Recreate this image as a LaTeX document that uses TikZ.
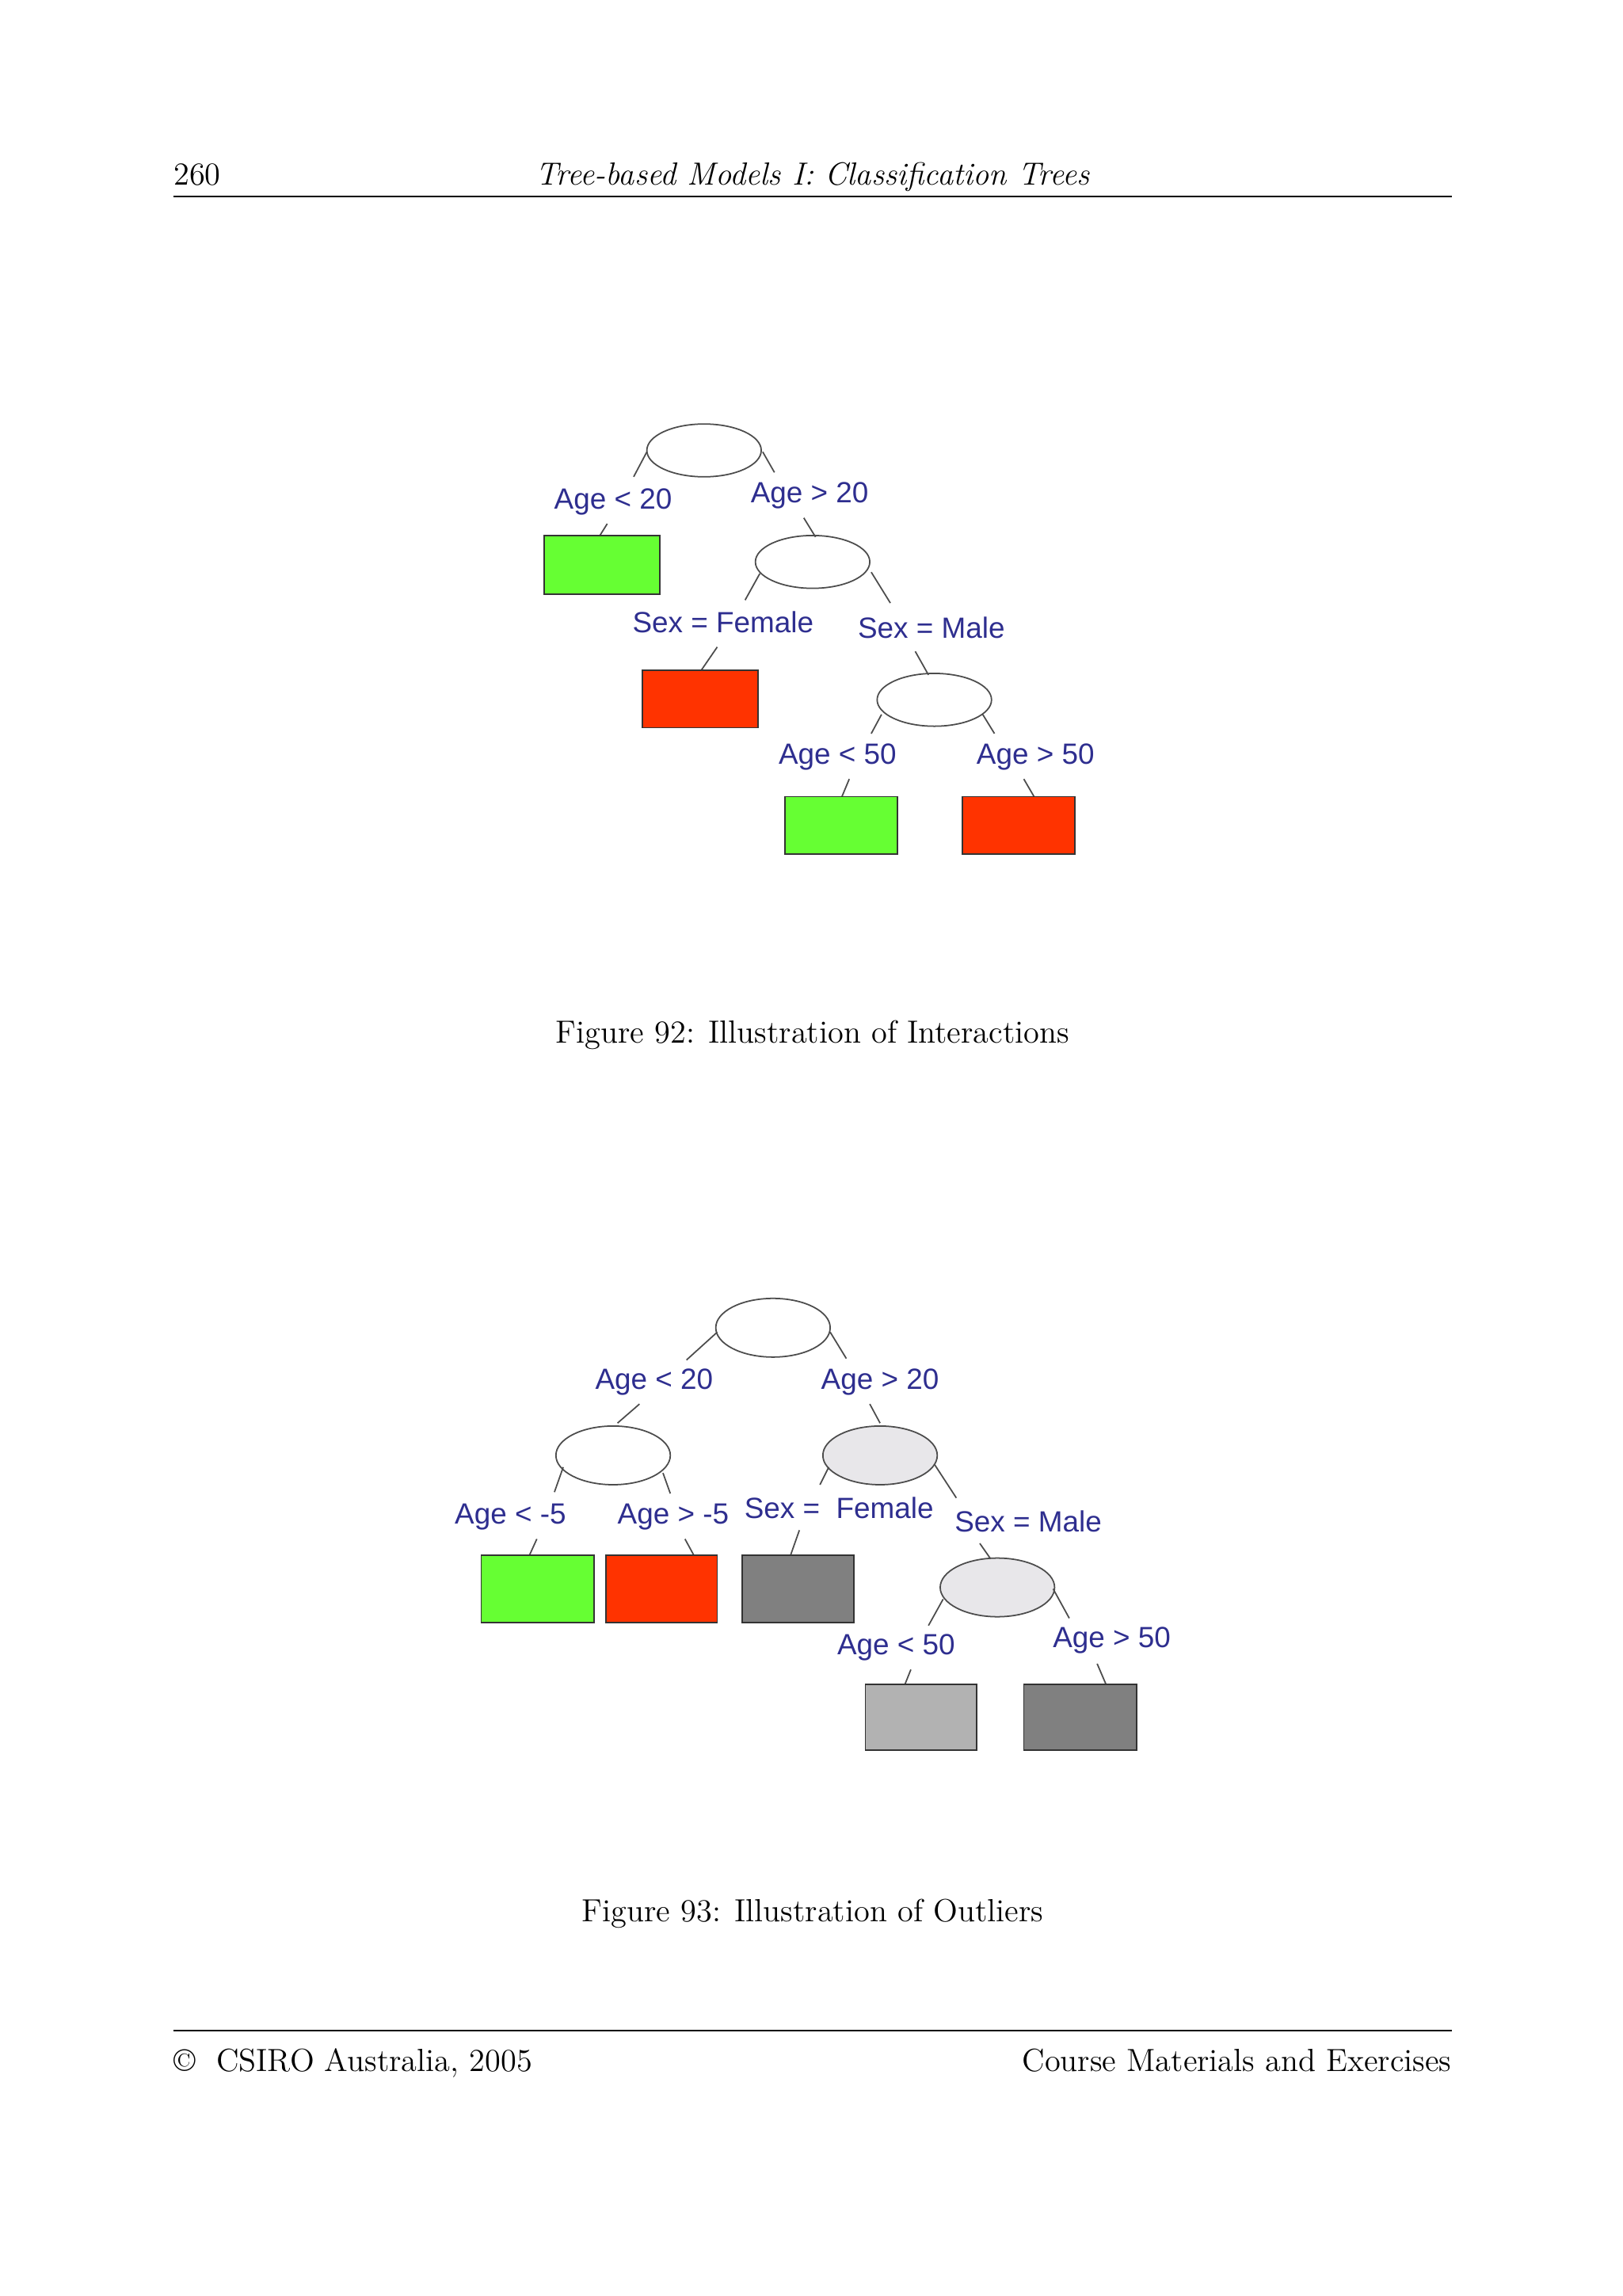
\documentclass[tikz,border=0pt]{standalone}
\usepackage{fontspec}
\newfontfamily\lab{Liberation Sans}
\usetikzlibrary{shapes.geometric}
\definecolor{lblue}{HTML}{2E2E8F}
\definecolor{lgreen}{HTML}{66FF33}
\definecolor{lred}{HTML}{FF3300}
\definecolor{lgrey}{HTML}{E8E7EA}
\definecolor{dgrey}{HTML}{808080}
\definecolor{mgrey}{HTML}{B2B2B2}
\tikzset{
 lbl/.style={text=lblue,font=\lab\fontsize{10.5}{12}\selectfont,inner sep=0pt},
 txt/.style={font=\fontsize{11.5}{14}\selectfont,inner sep=0pt},
 stub/.style={draw=black!70,line width=0.5pt},
 leaf/.style={draw=black!80,line width=0.5pt},
}
\begin{document}
\begin{tikzpicture}[x=0.018517cm,y=-0.018517cm]
\useasboundingbox (0,0) rectangle (1106,1565);
% header
\node[txt,anchor=base west] (pg) at (118,126) {260};
\node[txt,anchor=base] (ttl) at (554,126) {\itshape Tree-based Models I: Classification Trees};
\draw[line width=0.4pt] (118,134) -- (990,134);
% ---------- Figure 92
\draw[stub] (480,307) ellipse [x radius=39,y radius=18];
\draw[stub] (441,308)--(432,325) (520,308)--(528,322);
\node[lbl] (a1) at (418,342) {Age < 20};
\node[lbl] (a2) at (552,338) {Age > 20};
\draw[stub] (414,357)--(409,365);
\draw[leaf,fill=lgreen] (371,365) rectangle (450,405);
\draw[stub] (548,353)--(556,366);
\draw[stub] (554,383) ellipse [x radius=39,y radius=18];
\draw[stub] (518,391)--(508,409) (594,390)--(607,411);
\node[lbl] (s1) at (493,424) {Sex = Female};
\node[lbl] (s2) at (635,428) {Sex = Male};
\draw[stub] (489,441)--(478,457);
\draw[leaf,fill=lred] (438,457) rectangle (517,496);
\draw[stub] (624,444)--(633,460);
\draw[stub] (637,477) ellipse [x radius=39,y radius=18];
\draw[stub] (601,487)--(594,500) (670,487)--(678,500);
\node[lbl] (b1) at (571,516) {Age < 50};
\node[lbl] (b2) at (706,516) {Age > 50};
\draw[stub] (579,531)--(574,543) (698,531)--(705,543);
\draw[leaf,fill=lgreen] (535,543) rectangle (612,582);
\draw[leaf,fill=lred] (656,543) rectangle (733,582);
\node[txt,anchor=base] (c92) at (554,711) {Figure 92: Illustration of Interactions};
% ---------- Figure 93
\draw[stub] (527,905) ellipse [x radius=39,y radius=20];
\draw[stub] (489,908)--(468,927) (566,908)--(577,926);
\node[lbl] (d1) at (446,942) {Age < 20};
\node[lbl] (d2) at (600,942) {Age > 20};
\draw[stub] (436,957)--(421,970) (593,957)--(600,970);
\draw[stub] (418,992) ellipse [x radius=39,y radius=20];
\draw[stub,fill=lgrey] (600,992) ellipse [x radius=39,y radius=20];
\draw[stub] (384,1000)--(378,1017) (452,1004)--(457,1018);
\node[lbl] (e1) at (348,1034) {Age < -5};
\node[lbl] (e2) at (459,1034) {Age > -5};
\draw[stub] (366,1049)--(361,1060) (467,1049)--(473,1060);
\draw[leaf,fill=lgreen] (328,1060) rectangle (405,1106);
\draw[leaf,fill=lred] (413,1060) rectangle (489,1106);
\draw[stub] (565,1000)--(559,1012) (637,998)--(652,1021);
\node[lbl] (f1) at (572,1028) {Sex =\ \ Female};
\node[lbl] (f2) at (701,1037) {Sex = Male};
\draw[stub] (545,1043)--(539,1060);
\draw[leaf,fill=dgrey] (506,1060) rectangle (582,1106);
\draw[stub] (668,1052)--(675,1062);
\draw[stub,fill=lgrey] (680,1082) ellipse [x radius=39,y radius=20];
\draw[stub] (643,1090)--(633,1108) (718,1083)--(729,1103);
\node[lbl] (g1) at (611,1123) {Age < 50};
\node[lbl] (g2) at (758,1118) {Age > 50};
\draw[stub] (621,1138)--(617,1148) (748,1134)--(754,1148);
\draw[leaf,fill=mgrey] (590,1148) rectangle (666,1193);
\draw[leaf,fill=dgrey] (698,1148) rectangle (775,1193);
\node[txt,anchor=base] (c93) at (554,1310) {Figure 93: Illustration of Outliers};
% footer
\draw[line width=0.4pt] (118,1384) -- (990,1384);
\node[txt,anchor=base west] (fl) at (118,1412) {\textcopyright\ \ CSIRO Australia, 2005};
\node[txt,anchor=base east] (fr) at (990,1412) {Course Materials and Exercises};
\end{tikzpicture}
\end{document}
